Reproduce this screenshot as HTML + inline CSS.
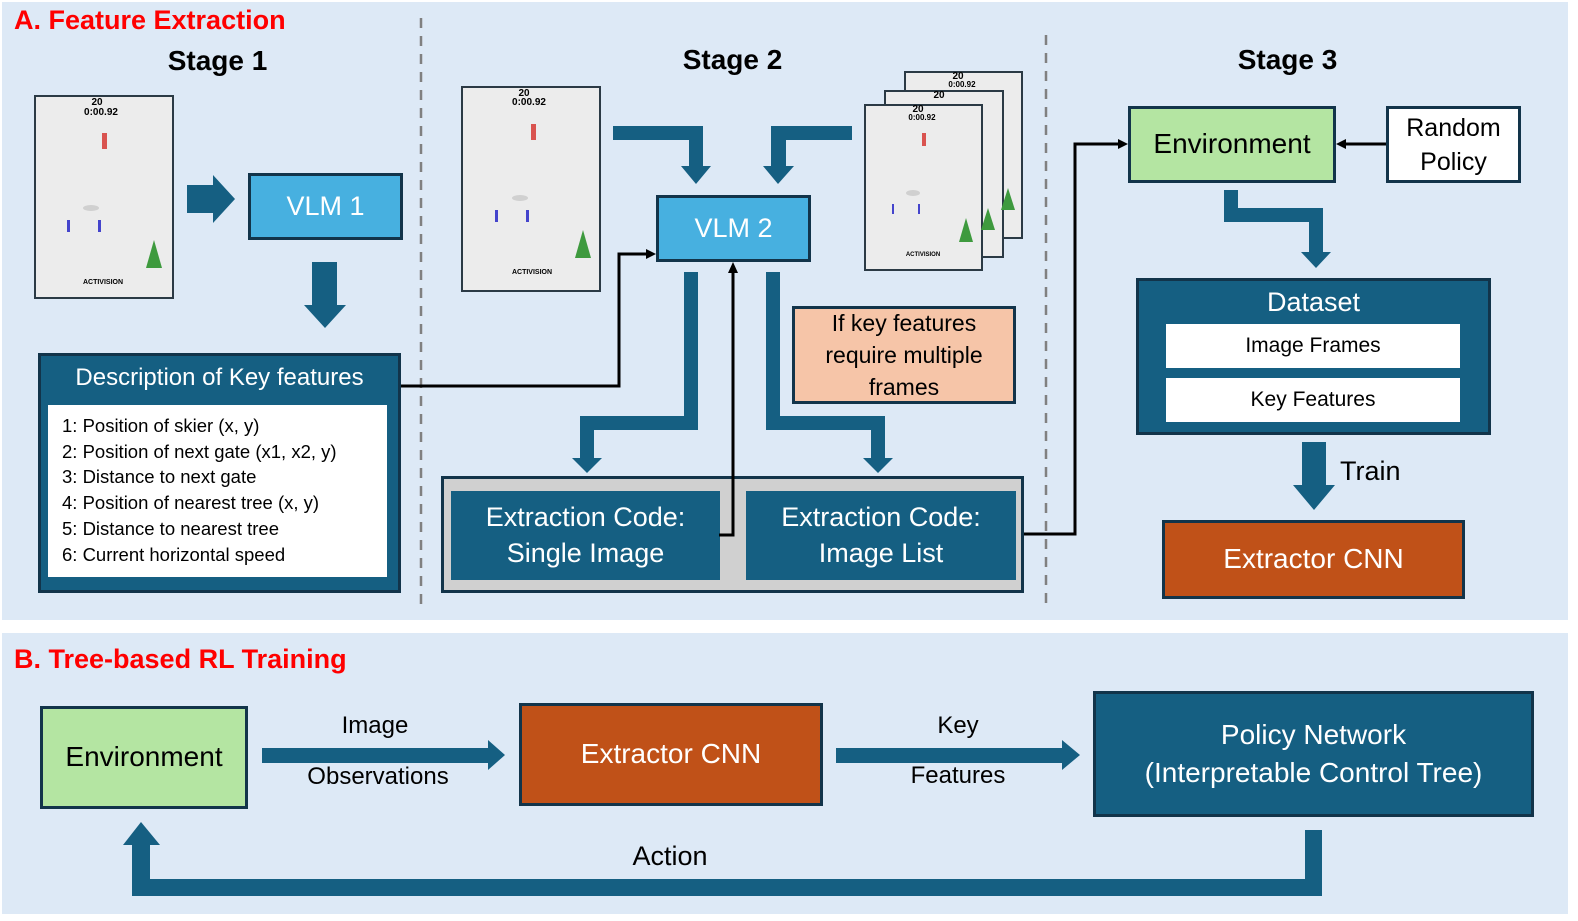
<!DOCTYPE html>
<html><head><meta charset="utf-8"><style>
*{margin:0;padding:0;box-sizing:border-box}
body{width:1578px;height:921px;background:#fff;position:relative;overflow:hidden;font-family:"Liberation Sans",sans-serif}
.a{position:absolute}
.bx{position:absolute;display:flex;align-items:center;justify-content:center;text-align:center;line-height:1.3}
.frame{position:absolute;background:#ececec;border:2px solid #2b3a45}
.t{position:absolute;text-align:center;white-space:nowrap}
</style></head><body>
<div class="a" style="left:2px;top:2px;width:1566px;height:618px;background:#dde9f6"></div>
<div class="a" style="left:2px;top:633px;width:1566px;height:281px;background:#dde9f6"></div>

<div class="t" style="left:14px;top:5px;font-size:27px;font-weight:bold;color:#f00">A. Feature Extraction</div>
<div class="t" style="left:14px;top:644px;font-size:27px;font-weight:bold;color:#f00">B. Tree-based RL Training</div>
<div class="t" style="left:130px;top:45px;width:175px;font-size:28px;font-weight:bold">Stage 1</div>
<div class="t" style="left:645px;top:44px;width:175px;font-size:28px;font-weight:bold">Stage 2</div>
<div class="t" style="left:1200px;top:44px;width:175px;font-size:28px;font-weight:bold">Stage 3</div>

<svg class="a" style="left:0;top:0" width="1578" height="921">
<line x1="421" y1="18" x2="421" y2="608" stroke="#808080" stroke-width="2.5" stroke-dasharray="10,8"/>
<line x1="1046" y1="35" x2="1046" y2="608" stroke="#808080" stroke-width="2.5" stroke-dasharray="10,8"/>
<g fill="#155f82">
<polygon points="187,185 213,185 213,175 235,199 213,223 213,213 187,213"/>
<polygon points="312,262 337,262 337,305 346,305 325,328 304,305 312,305"/>
<polygon points="613,126 703,126 703,166 711,166 696,184 681,166 689,166 689,140 613,140"/>
<polygon points="852,126 852,140 786,140 786,166 794,166 778,184 763,166 771,166 771,126"/>
<polygon points="684,272 698,272 698,430 594,430 594,458 602,458 587,473 572,458 580,458 580,416 684,416"/>
<polygon points="766,272 780,272 780,416 885,416 885,458 893,458 878,473 863,458 871,458 871,430 766,430"/>
<polygon points="1224,190 1238,190 1238,208 1323,208 1323,252 1331,252 1316,268 1301,252 1309,252 1309,222 1224,222"/>
<polygon points="1302,442 1326,442 1326,485 1335,485 1314,510 1293,485 1302,485"/>
<polygon points="262,748 488,748 488,740 505,755 488,770 488,763 262,763"/>
<polygon points="836,748 1062,748 1062,740 1080,755 1062,770 1062,763 836,763"/>
<polygon points="1305,830 1322,830 1322,896 132,896 132,845 123,845 141,822 160,845 150,845 150,879 1305,879"/>
</g>
<g fill="none" stroke="#000" stroke-width="3">
<polyline points="400,386 619,386 619,254 648,254"/>
<polyline points="1023,534 1075,534 1075,144 1120,144"/>
<line x1="1386" y1="144" x2="1345" y2="144"/>
</g>
<g fill="#000">
<polygon points="656,254 646,249 646,259"/>
<polygon points="1128,144 1118,139 1118,149"/>
<polygon points="1336,144 1346,139 1346,149"/>
</g>
</svg>

<!-- frames -->
<div class="frame" style="left:34px;top:95px;width:140px;height:204px"></div>
<div class="frame" style="left:461px;top:86px;width:140px;height:206px"></div>
<div class="frame" style="left:904px;top:71px;width:119px;height:168px"></div>
<div class="frame" style="left:884px;top:90px;width:120px;height:168px"></div>
<div class="frame" style="left:864px;top:104px;width:119px;height:167px"></div>
<svg class="a" style="left:0;top:0" width="1100" height="310">
<g font-family="Liberation Sans" font-weight="bold" font-size="10" text-anchor="middle">
<text x="97" y="105">20</text><text x="101" y="115">0:00.92</text>
<text x="524" y="96">20</text><text x="529" y="105">0:00.92</text>
<text x="958" y="79">20</text><text x="962" y="87" font-size="8">0:00.92</text>
<text x="939" y="98">20</text>
<text x="918" y="112">20</text><text x="922" y="120" font-size="8">0:00.92</text>
<text x="103" y="284" font-size="7">ACTIVISION</text><text x="532" y="274" font-size="7">ACTIVISION</text><text x="923" y="256" font-size="6">ACTIVISION</text>
</g>
<g fill="#d9534f"><rect x="102" y="133" width="5" height="16"/><rect x="531" y="124" width="5" height="16"/><rect x="922" y="133" width="4" height="13"/></g>
<g fill="#4444cc"><rect x="67" y="220" width="3" height="12"/><rect x="98" y="220" width="3" height="12"/><rect x="495" y="210" width="3" height="12"/><rect x="526" y="210" width="3" height="12"/><rect x="892" y="204" width="2" height="10"/><rect x="918" y="204" width="2" height="10"/></g>
<g fill="#3e9a3e"><polygon points="154,240 146,268 162,268"/><polygon points="583,230 575,258 591,258"/><polygon points="966,218 959,242 973,242"/><polygon points="988,208 981,230 995,230"/><polygon points="1008,188 1001,210 1015,210"/></g>
<g fill="#d0d0d0"><ellipse cx="91" cy="208" rx="8" ry="3"/><ellipse cx="520" cy="198" rx="8" ry="3"/><ellipse cx="913" cy="193" rx="7" ry="3"/></g>
</svg>

<div class="bx" style="left:248px;top:173px;width:155px;height:67px;background:#47b0e0;border:3px solid #12344a;color:#fff;font-size:27px">VLM 1</div>
<div class="bx" style="left:656px;top:195px;width:155px;height:67px;background:#47b0e0;border:3px solid #12344a;color:#fff;font-size:27px">VLM 2</div>

<div class="a" style="left:38px;top:353px;width:363px;height:240px;background:#155f82;border:3px solid #12344a"></div>
<div class="t" style="left:38px;top:364px;width:363px;font-size:24px;color:#fff">Description of Key features</div>
<div class="a" style="left:48px;top:405px;width:339px;height:172px;background:#fff;padding:8px 0 0 14px;font-size:18.5px;line-height:25.7px">1: Position of skier (x, y)<br>2: Position of next gate (x1, x2, y)<br>3: Distance to next gate<br>4: Position of nearest tree (x, y)<br>5: Distance to nearest tree<br>6: Current horizontal speed</div>

<div class="bx" style="left:792px;top:306px;width:224px;height:98px;background:#f6c5a8;border:3px solid #12344a;font-size:23px;line-height:32px">If key features<br>require multiple<br>frames</div>

<div class="a" style="left:441px;top:476px;width:583px;height:117px;background:#d0d0d0;border:3px solid #12344a"></div>
<div class="bx" style="left:451px;top:491px;width:269px;height:89px;background:#155f82;color:#fff;font-size:27px">Extraction Code:<br>Single Image</div>
<div class="bx" style="left:746px;top:491px;width:270px;height:89px;background:#155f82;color:#fff;font-size:27px">Extraction Code:<br>Image List</div>

<svg class="a" style="left:0;top:0" width="1100" height="600">
<polyline points="719,535 733,535 733,272" fill="none" stroke="#000" stroke-width="3"/>
<polygon points="733,262 728,273 738,273" fill="#000"/>
</svg>

<div class="bx" style="left:1128px;top:106px;width:208px;height:77px;background:#b4e5a2;border:3px solid #12344a;font-size:28px">Environment</div>
<div class="bx" style="left:1386px;top:106px;width:135px;height:77px;background:#fff;border:3px solid #12344a;font-size:25px;line-height:34px">Random<br>Policy</div>

<div class="a" style="left:1136px;top:278px;width:355px;height:157px;background:#155f82;border:3px solid #12344a"></div>
<div class="t" style="left:1136px;top:287px;width:355px;font-size:27px;color:#fff">Dataset</div>
<div class="bx" style="left:1166px;top:324px;width:294px;height:44px;background:#fff;font-size:21px">Image Frames</div>
<div class="bx" style="left:1166px;top:378px;width:294px;height:44px;background:#fff;font-size:21px">Key Features</div>
<div class="t" style="left:1340px;top:456px;font-size:27px">Train</div>
<div class="bx" style="left:1162px;top:520px;width:303px;height:79px;background:#c05118;border:3px solid #12344a;color:#fff;font-size:28px">Extractor CNN</div>

<div class="bx" style="left:40px;top:706px;width:208px;height:103px;background:#b4e5a2;border:3px solid #12344a;font-size:28px">Environment</div>
<div class="t" style="left:300px;top:712px;width:150px;font-size:24px">Image</div>
<div class="t" style="left:278px;top:763px;width:200px;font-size:24px">Observations</div>
<div class="bx" style="left:519px;top:703px;width:304px;height:103px;background:#c05118;border:3px solid #12344a;color:#fff;font-size:28px">Extractor CNN</div>
<div class="t" style="left:883px;top:712px;width:150px;font-size:24px">Key</div>
<div class="t" style="left:883px;top:762px;width:150px;font-size:24px">Features</div>
<div class="bx" style="left:1093px;top:691px;width:441px;height:126px;background:#155f82;border:3px solid #12344a;color:#fff;font-size:28px;line-height:38px">Policy Network<br>(Interpretable Control Tree)</div>
<div class="t" style="left:595px;top:841px;width:150px;font-size:27px">Action</div>
</body></html>
